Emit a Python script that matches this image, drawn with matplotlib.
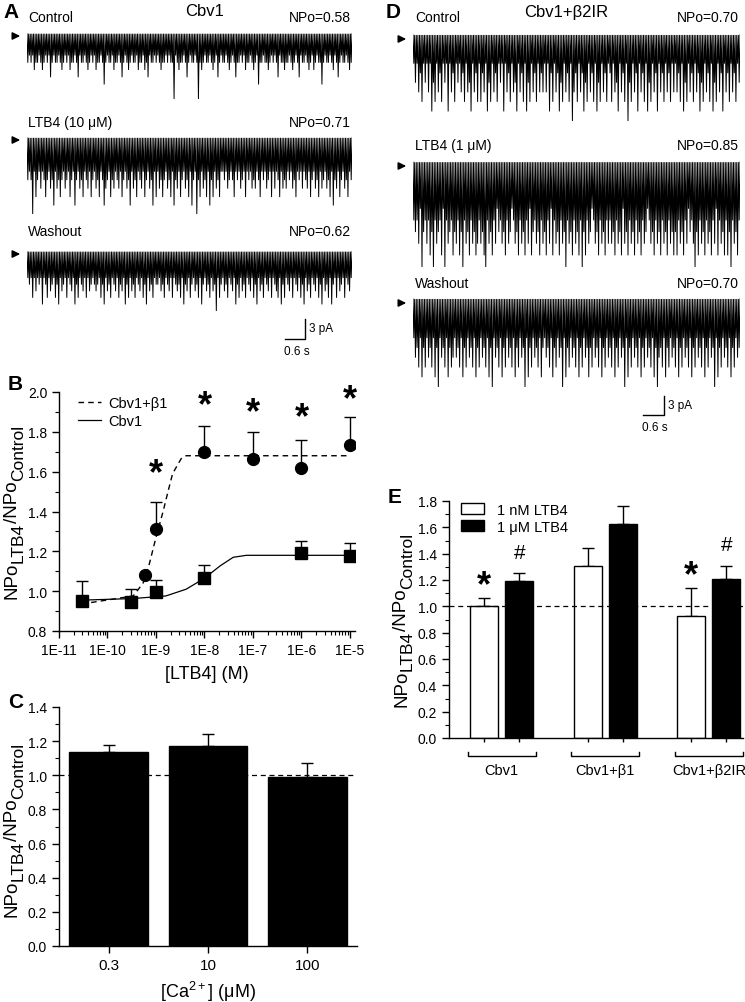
import numpy as np
import matplotlib
matplotlib.use('Agg')
import matplotlib.pyplot as plt
from matplotlib.lines import Line2D
from matplotlib.ticker import MultipleLocator, LogLocator, NullFormatter, FormatStrFormatter

plt.rcParams['font.family'] = ['Liberation Sans', 'DejaVu Sans']
plt.rcParams['mathtext.fontset'] = 'custom'
plt.rcParams['mathtext.rm'] = 'Liberation Sans'

# ---- single channel traces (depth of each opening event, 0 = closed level) ----
trace_a_ctrl = ("4343544345434364344345434354434634434543"
                "4354434743443544346434543443544354634434"
                "3454434344934544346434434945434434543643"
                "4434543464434354434543744344543434634454"
                "4345434634434543543447434434534643443454")
trace_a_ltb4 = ("5459475464575465846575465475485465745647"
                "5465745865475645647546584657456475465847"
                "4657546574856475465748549574657485746574"
                "4546545745465474546564574546547464574656"
                "4546574546456475465746546574856475465745")
trace_a_wash = ("4547464548457465475846547456485745647465"
                "4565475846574564756485746574564758465745"
                "5465745647456574856475465748546574659475"
                "4657456485746574564758465745647456748574"
                "5647456475846574564758465748547465474564")
trace_d_ctrl = ("3536473536385736473538364735364736583647"
                "3746385736473538364736583647385736473646"
                "3638473648573647396473648573647385736473"
                "4736583647395736483647385736483647364736"
                "3647385736473648573647385736483647364735")
trace_d_ltb4 = ("5657496575869576584957658675869576857687"
                "5768957685746576857645768576857486576857"
                "6857485768576957685768596857645768576857"
                "5768576847685768576857645768576857685768"
                "6857685746579685768576857485768586957685")
trace_d_wash = ("4657485746574859465748576465748574657485"
                "7465748594657485746574857465948574657485"
                "4657485746594857465748574658574657485746"
                "5748574659485746574857465748596574857465"
                "7485746574857465748574659485746574857465")

labels_a = ['Control', 'LTB4 (10 \u03bcM)', 'Washout']
npo_a = ['NPo=0.58', 'NPo=0.71', 'NPo=0.62']
labels_d = ['Control', 'LTB4 (1 \u03bcM)', 'Washout']
npo_d = ['NPo=0.70', 'NPo=0.85', 'NPo=0.70']

# ---- panel B: concentration response ----
conc_b1 = [6e-10, 1e-9, 1e-8, 1e-7, 1e-6, 1e-5]
npo_b1 = [1.08, 1.31, 1.70, 1.665, 1.62, 1.735]
err_b1 = [0.0, 0.14, 0.13, 0.135, 0.14, 0.14]
conc_cbv1 = [3e-11, 3e-10, 1e-9, 1e-8, 1e-6, 1e-5]
npo_cbv1 = [0.95, 0.945, 0.995, 1.065, 1.19, 1.175]
err_cbv1 = [0.10, 0.065, 0.06, 0.065, 0.06, 0.065]
fit_b1_x = [4.6e-11, 3.4e-10, 5.4e-10, 7e-10, 1e-9, 1.4e-9, 1.77e-9, 2.2e-9, 3.3e-9, 4.2e-9, 1e-5]
fit_b1_y = [0.943, 0.976, 1.04, 1.12, 1.27, 1.40, 1.50, 1.59, 1.665, 1.68, 1.68]
fit_cbv1_x = [3e-11, 3.4e-10, 1.6e-9, 4.2e-9, 1e-8, 2.1e-8, 3.9e-8, 7.3e-8, 1e-5]
fit_cbv1_y = [0.955, 0.963, 0.976, 1.01, 1.065, 1.127, 1.17, 1.18, 1.18]
star_b_x = [1e-9, 1e-8, 1e-7, 1e-6, 1e-5]
star_b_y = [1.59, 1.93, 1.895, 1.87, 1.96]

# ---- panel C ----
ca_labels = ['0.3', '10', '100']
ca_vals = [1.135, 1.17, 0.99]
ca_err = [0.04, 0.07, 0.08]

# ---- panel E ----
groups_e = ['Cbv1', 'Cbv1+\u03b21', 'Cbv1+\u03b22IR']
nm_vals = [1.0, 1.31, 0.93]
nm_err = [0.06, 0.13, 0.21]
um_vals = [1.19, 1.625, 1.21]
um_err = [0.06, 0.135, 0.095]

W, H = 745, 1003
fig = plt.figure(figsize=(W / 100, H / 100), dpi=100)
fig.patch.set_facecolor('white')
renderer = fig.canvas.get_renderer()


def box(l, t, r, b):
    return [l / W, 1 - b / H, (r - l) / W, (b - t) / H]


def fp(x, y):
    return (x / W, 1 - y / H)


def draw_trace(s, l, t, r, b):
    ax = fig.add_axes(box(l, t, r, b))
    v = np.array([int(c) for c in s], dtype=float)
    # closed level between each opening
    y = np.zeros(2 * len(v) + 1)
    y[1::2] = -v
    ax.plot(np.arange(len(y)), y, color='black', lw=0.7, solid_joinstyle='miter')
    ax.set_xlim(0, len(y) - 1)
    ax.set_ylim(-9, 0.1)
    ax.axis('off')
    return ax


def arrow(x0, x1, y):
    fig.add_artist(matplotlib.patches.FancyArrowPatch(
        fp(x0, y), fp(x1, y), transform=fig.transFigure,
        arrowstyle='-|>,head_length=4.5,head_width=2.2', color='black', lw=1.1))


def scalebar(xv, ytop, xl, ybot, lab_y, lab_x, ty):
    fig.add_artist(Line2D([xv / W, xv / W, xl / W], [1 - ytop / H, 1 - ybot / H, 1 - ybot / H],
                          transform=fig.transFigure, color='black', lw=1.0))
    fig.text(*fp(xv + 4, lab_y), '3 pA', fontsize=8.5, va='center', ha='left')
    fig.text(*fp(lab_x, ty), '0.6 s', fontsize=8.5, va='center', ha='left')


def stacked_ylabel(xbase, ycenter):
    # NPo(LTB4)/NPo(Control), rotated, subscripts drawn almost full size
    parts = [('NPo', 13.5, 0), ('LTB4', 12.5, 6), ('/NPo', 13.5, 0), ('Control', 12.5, 6)]
    items = []
    total = 0
    for s, size, sh in parts:
        t = fig.text(0, 0, s, fontsize=size, rotation=90, rotation_mode='anchor',
                     ha='left', va='baseline')
        L = t.get_window_extent(renderer).height
        items.append((t, L, sh))
        total += L
    y = ycenter + total / 2
    for t, L, sh in items:
        t.set_position(fp(xbase + sh, y))
        y -= L


# ---------------- panel A ----------------
fig.text(*fp(3, 13), 'A', fontsize=15, fontweight='bold', va='center')
fig.text(*fp(205, 12), 'Cbv1', fontsize=12, ha='center', va='center')
a_boxes = [(27, 34, 352, 100), (27, 138, 352, 215), (27, 252, 352, 312)]
a_traces = [trace_a_ctrl, trace_a_ltb4, trace_a_wash]
a_lab_y = [18, 123, 232]
for i in range(3):
    l, t, r, b = a_boxes[i]
    draw_trace(a_traces[i], l, t, r, b)
    arrow(10, 23, t + 3)
    fig.text(*fp(28, a_lab_y[i]), labels_a[i], fontsize=10, va='center', ha='left')
    fig.text(*fp(351, a_lab_y[i]), npo_a[i], fontsize=10, va='center', ha='right')
scalebar(305, 320, 285, 340, 329, 284, 352)

# ---------------- panel D ----------------
fig.text(*fp(386, 13), 'D', fontsize=15, fontweight='bold', va='center')
fig.text(*fp(566, 12), 'Cbv1+\u03b22IR', fontsize=12, ha='center', va='center')
d_boxes = [(413, 35, 740, 122), (413, 162, 740, 268), (413, 299, 740, 388)]
d_traces = [trace_d_ctrl, trace_d_ltb4, trace_d_wash]
d_lab_y = [18, 146, 284]
for i in range(3):
    l, t, r, b = d_boxes[i]
    draw_trace(d_traces[i], l, t, r, b)
    arrow(396, 409, t + 5)
    fig.text(*fp(415, d_lab_y[i]), labels_d[i], fontsize=10, va='center', ha='left')
    fig.text(*fp(739, d_lab_y[i]), npo_d[i], fontsize=10, va='center', ha='right')
scalebar(664, 397, 643, 416, 406, 642, 428)


def style_axes(ax):
    for sp in ['top', 'right']:
        ax.spines[sp].set_visible(False)
    for sp in ['left', 'bottom']:
        ax.spines[sp].set_linewidth(1.0)
    ax.tick_params(which='major', direction='out', length=5, width=1, labelsize=10)
    ax.tick_params(which='minor', direction='out', length=3, width=0.8)
    ax.yaxis.set_major_formatter(FormatStrFormatter('%.1f'))


# ---------------- panel B ----------------
axb = fig.add_axes(box(59, 393, 355, 632))
style_axes(axb)
axb.set_xscale('log')
axb.plot(fit_b1_x, fit_b1_y, color='black', lw=1.0, ls=(0, (4, 3)), label='Cbv1+\u03b21')
axb.plot(fit_cbv1_x, fit_cbv1_y, color='black', lw=0.9, label='Cbv1')
axb.errorbar(conc_b1, npo_b1, yerr=[np.zeros(len(err_b1)), err_b1], fmt='o', color='black',
             ms=8.5, capsize=4, elinewidth=1, capthick=1)
axb.errorbar(conc_cbv1, npo_cbv1, yerr=[np.zeros(len(err_cbv1)), err_cbv1], fmt='s', color='black',
             ms=8, capsize=4, elinewidth=1, capthick=1)
for x, y in zip(star_b_x, star_b_y):
    axb.text(x, y, '*', fontsize=26, fontweight='bold', ha='center', va='center', clip_on=False)
axb.set_xlim(1e-11, 1.27e-5)
axb.set_ylim(0.8, 2.0)
axb.set_xticks([1e-11, 1e-10, 1e-9, 1e-8, 1e-7, 1e-6, 1e-5])
axb.set_xticklabels(['1E-11', '1E-10', '1E-9', '1E-8', '1E-7', '1E-6', '1E-5'])
axb.xaxis.set_minor_locator(LogLocator(base=10, subs=np.arange(2, 10)))
axb.xaxis.set_minor_formatter(NullFormatter())
axb.yaxis.set_major_locator(MultipleLocator(0.2))
axb.yaxis.set_minor_locator(MultipleLocator(0.1))
axb.set_xlabel('[LTB4] (M)', fontsize=13, labelpad=6)
axb.legend(loc='upper left', bbox_to_anchor=(0.035, 1.02), frameon=False, fontsize=10.5,
           handlelength=1.6, handletextpad=0.5, labelspacing=0.25, borderaxespad=0.2)
stacked_ylabel(17, 512)
fig.text(*fp(8, 384), 'B', fontsize=15, fontweight='bold', va='center')

# ---------------- panel C ----------------
axc = fig.add_axes(box(59, 708, 357, 947))
style_axes(axc)
xc = np.arange(len(ca_vals))
axc.bar(xc, ca_vals, width=0.79, color='black', edgecolor='black', zorder=2)
axc.errorbar(xc, ca_vals, yerr=[np.zeros(3), ca_err], fmt='none', ecolor='black',
             capsize=4, elinewidth=1, capthick=1, zorder=1)
axc.axhline(1.0, color='black', lw=0.9, ls=(0, (4, 3)), zorder=3)
axc.set_xlim(-0.5, 2.5)
axc.set_ylim(0, 1.4)
axc.set_xticks(xc)
axc.set_xticklabels(ca_labels)
axc.yaxis.set_major_locator(MultipleLocator(0.2))
axc.yaxis.set_minor_locator(MultipleLocator(0.1))
axc.tick_params(axis='x', labelsize=11)
axc.set_xlabel('[Ca$^{2+}$] (\u03bcM)', fontsize=13, labelpad=5)
stacked_ylabel(17, 830)
fig.text(*fp(8, 703), 'C', fontsize=15, fontweight='bold', va='center')

# ---------------- panel E ----------------
axe = fig.add_axes(box(449, 502, 743, 739))
style_axes(axe)
xe = np.arange(len(groups_e))
off, bw = 0.17, 0.27
axe.errorbar(xe - off, nm_vals, yerr=[np.zeros(3), nm_err], fmt='none', ecolor='black',
             capsize=4, elinewidth=1, capthick=1, zorder=1)
axe.errorbar(xe + off, um_vals, yerr=[np.zeros(3), um_err], fmt='none', ecolor='black',
             capsize=4, elinewidth=1, capthick=1, zorder=1)
axe.bar(xe - off, nm_vals, width=bw, color='white', edgecolor='black', lw=1, zorder=2, label='1 nM LTB4')
axe.bar(xe + off, um_vals, width=bw, color='black', edgecolor='black', lw=1, zorder=2, label='1 \u03bcM LTB4')
axe.axhline(1.0, color='black', lw=0.9, ls=(0, (4, 3)), zorder=3)
axe.set_xlim(-0.51, 2.33)
axe.set_ylim(0, 1.8)
axe.set_xticks(np.concatenate([xe - off, xe + off]))
axe.set_xticklabels([])
axe.tick_params(axis='x', length=3)
axe.yaxis.set_major_locator(MultipleLocator(0.2))
axe.yaxis.set_minor_locator(MultipleLocator(0.1))
axe.text(0 - off, 1.155, '*', fontsize=26, fontweight='bold', ha='center', va='center')
axe.text(2 - off, 1.235, '*', fontsize=26, fontweight='bold', ha='center', va='center')
axe.text(0 + off, 1.41, '#', fontsize=15, ha='center', va='center')
axe.text(2 + off, 1.47, '#', fontsize=15, ha='center', va='center')
tr = axe.get_xaxis_transform()
for g, name in zip(xe, groups_e):
    axe.plot([g - 0.33, g - 0.33, g + 0.33, g + 0.33], [-0.058, -0.076, -0.076, -0.058],
             color='black', lw=1, transform=tr, clip_on=False)
    axe.text(g, -0.135, name, fontsize=10.5, ha='center', va='center', transform=tr)
axe.legend(loc='upper left', bbox_to_anchor=(0.01, 1.03), frameon=False, fontsize=10.5,
           handlelength=1.6, handleheight=0.75, handletextpad=0.9, labelspacing=0.2,
           borderaxespad=0.2)
stacked_ylabel(406, 620)
fig.text(*fp(388, 498), 'E', fontsize=15, fontweight='bold', va='center')

fig.savefig('out.png', dpi=100)
